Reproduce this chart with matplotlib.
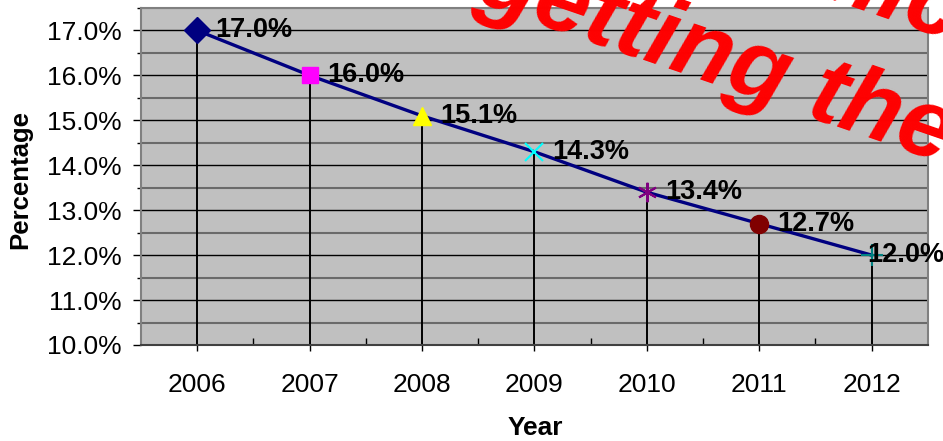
import numpy as np
import matplotlib.pyplot as plt
from matplotlib.ticker import MultipleLocator, FixedLocator

plt.rcParams['font.family'] = ['Liberation Sans', 'DejaVu Sans']

years = ['2006', '2007', '2008', '2009', '2010', '2011', '2012']
values = [17.0, 16.0, 15.1, 14.3, 13.4, 12.7, 12.0]
markers = ['D', 's', '^', 'x', '*', 'o', '+']
marker_colors = ['#000080', '#FF00FF', '#FFFF00', '#00FFFF', '#800080', '#800000', '#008080']

fig = plt.figure(figsize=(9.43, 4.41), dpi=100)
ax = fig.add_axes([0.1495, 0.2177, 0.8345, 0.7642])
ax.set_facecolor('#C0C0C0')

x = np.arange(len(years))
ax.set_xlim(-0.5, len(years) - 0.5)
ax.set_ylim(10.0, 17.5)

# grid lines
ax.yaxis.set_major_locator(MultipleLocator(1.0))
ax.yaxis.set_minor_locator(MultipleLocator(0.5))
ax.grid(axis='y', which='major', color='black', linewidth=1.0, zorder=1)
ax.grid(axis='y', which='minor', color='#6a6a6a', linewidth=1.5, zorder=1)
ax.set_axisbelow(True)

# drop lines
ax.vlines(x, 10.0, values, color='black', linewidth=1.4, zorder=2)

# main line
ax.plot(x, values, color='#000080', linewidth=2.4, zorder=3)

# markers
sizes = {'D': 13, 's': 12, '^': 13, 'x': 13, '*': 14, 'o': 13, '+': 16}
for xi, v, m, c in zip(x, values, markers, marker_colors):
    if m in ('x', '+'):
        ax.plot(xi, v, marker=m, markersize=sizes[m], color=c, markeredgewidth=1.5, zorder=4)
    elif m == '*':
        ax.plot(xi, v, marker=(6, 2, 0), markersize=sizes[m], color=c, markeredgewidth=1.5, zorder=4)
    else:
        ax.plot(xi, v, marker=m, markersize=sizes[m], color=c, markeredgecolor=c, zorder=4)

# data labels
for i, (xi, v) in enumerate(zip(x, values)):
    dx = 18 if i < len(years) - 1 else -4
    ax.annotate(f'{v:.1f}%', (xi, v), xytext=(dx * 0.72, 0), textcoords='offset points',
                ha='left', va='center', fontsize=19.5, fontweight='bold', color='black',
                zorder=5, annotation_clip=False)

ax.set_xticks(x)
ax.set_xticklabels(years, fontsize=19)
ax.xaxis.set_minor_locator(FixedLocator(np.arange(0.5, len(years) - 1, 1.0)))
ax.tick_params(axis='x', which='major', direction='out', length=4, width=1, pad=16)
ax.tick_params(axis='x', which='minor', direction='in', length=5, width=1)
ax.tick_params(axis='y', which='major', direction='out', length=6, width=1, pad=8, labelsize=19)
ax.tick_params(axis='y', which='minor', direction='out', length=3, width=1)
ax.set_yticks(np.arange(10.0, 17.01, 1.0))
ax.set_yticklabels([f'{t:.1f}%' for t in np.arange(10.0, 17.01, 1.0)])

for s in ax.spines.values():
    s.set_color('#808080')
    s.set_linewidth(1.5)
ax.spines['bottom'].set_color('#404040')

fig.text(20 / 943, 1 - 179 / 441, 'Percentage', rotation=90, ha='center', va='center',
         fontsize=18.5, fontweight='bold')
fig.text(535 / 943, 1 - 428 / 441, 'Year', ha='center', va='center',
         fontsize=19, fontweight='bold')

# red overlay text
fig.text(482 / 943, 1 + 25 / 441, 'Economic\ngetting the', color='red', fontsize=70,
         fontweight='bold', fontstyle='italic', rotation=-19, rotation_mode='anchor',
         ha='left', va='baseline', linespacing=1.4, zorder=10)

fig.savefig('out.png', dpi=100)
